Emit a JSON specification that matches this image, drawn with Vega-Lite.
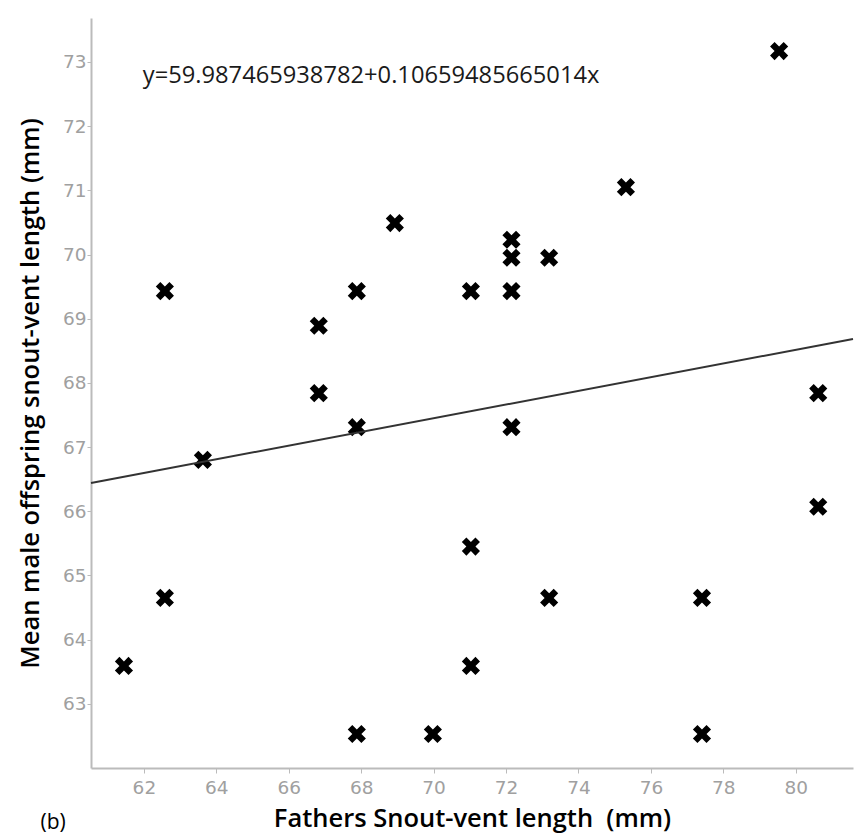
{
  "$schema": "https://vega.github.io/schema/vega-lite/v6.json",
  "width": 762,
  "height": 750,
  "autosize": {"type": "none"},
  "padding": {"left": 91, "top": 18, "right": 6, "bottom": 69},
  "background": "white",
  "config": {
    "view": {"stroke": null},
    "axis": {
      "grid": false,
      "domainColor": "#bbbbbb",
      "domainWidth": 2,
      "tickColor": "#bbbbbb",
      "tickSize": 4,
      "tickWidth": 1,
      "labelColor": "#a0a0a0",
      "labelFont": "DejaVu Sans",
      "labelFontSize": 18.5,
      "titleFont": "Open Sans",
      "titleFontWeight": 600,
      "titleFontSize": 25.5,
      "titleColor": "#000000"
    }
  },
  "title": {
    "text": "(b)",
    "orient": "bottom",
    "anchor": "start",
    "dx": 22,
    "offset": -20,
    "font": "Open Sans",
    "fontSize": 21,
    "fontWeight": "normal",
    "color": "#000000"
  },
  "layer": [
    {
      "data": {"values": [
        {"father": 61.45, "offspring": 63.59},
        {"father": 62.58, "offspring": 64.65},
        {"father": 62.58, "offspring": 69.43},
        {"father": 63.63, "offspring": 66.80},
        {"father": 66.83, "offspring": 68.89},
        {"father": 66.83, "offspring": 67.84},
        {"father": 67.88, "offspring": 69.43},
        {"father": 67.88, "offspring": 67.31},
        {"father": 67.88, "offspring": 62.53},
        {"father": 68.93, "offspring": 70.49},
        {"father": 69.98, "offspring": 62.53},
        {"father": 71.03, "offspring": 69.43},
        {"father": 71.03, "offspring": 65.45},
        {"father": 71.03, "offspring": 63.59},
        {"father": 72.15, "offspring": 70.23},
        {"father": 72.15, "offspring": 69.95},
        {"father": 72.15, "offspring": 69.43},
        {"father": 72.15, "offspring": 67.31},
        {"father": 73.19, "offspring": 69.95},
        {"father": 73.19, "offspring": 64.65},
        {"father": 75.31, "offspring": 71.05},
        {"father": 77.41, "offspring": 64.65},
        {"father": 77.41, "offspring": 62.53},
        {"father": 79.54, "offspring": 73.17},
        {"father": 80.62, "offspring": 67.84},
        {"father": 80.62, "offspring": 66.07}
      ]},
      "mark": {
        "type": "point",
        "filled": true,
        "color": "#000000",
        "opacity": 1,
        "size": 330,
        "shape": "M-1,-0.5L-0.5,-1L0,-0.5L0.5,-1L1,-0.5L0.5,0L1,0.5L0.5,1L0,0.5L-0.5,1L-1,0.5L-0.5,0Z"
      },
      "encoding": {
        "x": {
          "field": "father",
          "type": "quantitative",
          "scale": {"domain": [60.54, 81.58], "nice": false, "zero": false},
          "axis": {
            "values": [62, 64, 66, 68, 70, 72, 74, 76, 78, 80],
            "format": "d",
            "title": "Fathers Snout-vent length\u00a0 (mm)",
            "titlePadding": 10,
            "labelPadding": 5,
            "tickSize": 5
          }
        },
        "y": {
          "field": "offspring",
          "type": "quantitative",
          "scale": {"domain": [62.0, 73.685], "nice": false, "zero": false},
          "axis": {
            "values": [63, 64, 65, 66, 67, 68, 69, 70, 71, 72, 73],
            "format": "d",
            "title": "Mean male offspring snout-vent length (mm)",
            "titlePadding": 19,
            "labelPadding": 1
          }
        }
      }
    },
    {
      "data": {"values": [
        {"father": 60.54, "offspring": 66.4406},
        {"father": 81.58, "offspring": 68.6834}
      ]},
      "mark": {"type": "line", "color": "#333333", "strokeWidth": 2},
      "encoding": {
        "x": {"field": "father", "type": "quantitative"},
        "y": {"field": "offspring", "type": "quantitative"}
      }
    },
    {
      "data": {"values": [{"label": "y=59.987465938782+0.10659485665014x"}]},
      "mark": {
        "type": "text",
        "align": "left",
        "baseline": "alphabetic",
        "font": "Open Sans",
        "fontSize": 23.7,
        "color": "#1a1a1a"
      },
      "encoding": {
        "x": {"datum": 61.97, "type": "quantitative"},
        "y": {"datum": 72.68, "type": "quantitative"},
        "text": {"field": "label"}
      }
    }
  ]
}
